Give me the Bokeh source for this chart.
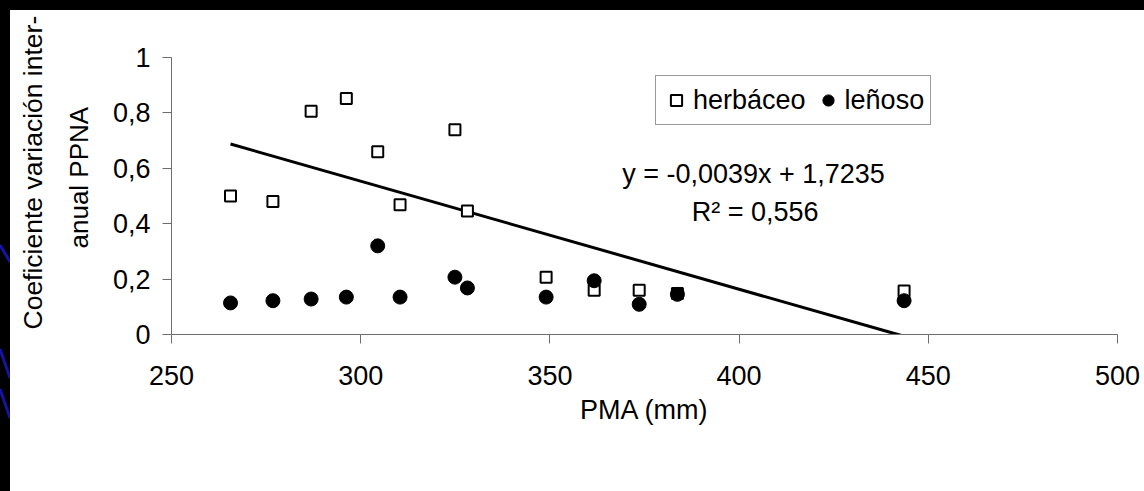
from bokeh.plotting import figure
from bokeh.layouts import row, column
from bokeh.models import (Range1d, FixedTicker, CustomJSTickFormatter, Legend, LegendItem,
                          Label, Title, Div)
from bokeh.embed import file_html
from bokeh.resources import INLINE

# ---------------- data ----------------
pma = [265.6, 276.8, 286.9, 296.2, 304.5, 310.4, 324.9, 328.2, 349.0, 361.7, 373.6, 383.7, 443.6]
herbaceo = [0.500, 0.480, 0.806, 0.852, 0.660, 0.468, 0.739, 0.446, 0.207, 0.160, 0.160, 0.148, 0.157]
lenoso = [0.114, 0.122, 0.128, 0.135, 0.320, 0.135, 0.207, 0.168, 0.135, 0.194, 0.109, 0.145, 0.122]

x_ticks = [250, 300, 350, 400, 450, 500]
y_ticks = [0, 0.2, 0.4, 0.6, 0.8, 1.0]
y_tick_labels = ["0", "0,2", "0,4", "0,6", "0,8", "1"]

trend_slope = -0.0039
trend_intercept = 1.7235
eq_text = "y = -0,0039x + 1,7235"
r2_text = "R\u00b2 = 0,556"

series_names = ["herbáceo", "leñoso"]
x_title = "PMA (mm)"
y_title_lines = ["Coeficiente variación inter-", "anual PPNA"]

# slide background strokes on the left black border (page pixels)
deco_x0 = [0, 0, 0]
deco_y0 = [245, 349, 389]
deco_x1 = [10, 10, 10]
deco_y1 = [262, 378, 418]

# ---------------- layout ----------------
W, H = 1144, 491
OX, OY = 10, 10                     # black slide border (left, top)
GL, GR, GT, GB = 171, 1117, 57, 334  # frame edges in page pixels
FONT = "Liberation Sans"


def dx(px):
    return 250 + (px - GL) * 250.0 / (GR - GL)


def dy(py):
    return (GB - py) / float(GB - GT)


pw, ph = W - OX, H - OY
p = figure(width=pw, height=ph, output_backend="svg", toolbar_location=None,
           x_range=Range1d(250, 500), y_range=Range1d(0, 1),
           min_border_left=GL - OX, min_border_right=W - GR, min_border_top=GT - OY,
           min_border_bottom=H - GB)
p.border_fill_color = "white"
p.border_fill_alpha = 1
p.background_fill_color = "white"
p.background_fill_alpha = 1
p.outline_line_color = None
p.outline_line_alpha = 0
p.outline_line_width = 0
p.xgrid.visible = False
p.ygrid.visible = False
try:
    p.frame_align = False
except Exception:
    pass

# axes
for ax in (p.xaxis[0], p.yaxis[0]):
    ax.axis_line_color = "#6e6e6e"
    ax.axis_line_width = 1
    ax.major_tick_line_color = "#6e6e6e"
    ax.major_tick_in = 0
    ax.major_tick_out = 9
    ax.minor_tick_line_color = None
    ax.major_label_text_font = FONT
    ax.major_label_text_font_size = "27px"
    ax.major_label_text_color = "black"

p.xaxis.ticker = FixedTicker(ticks=x_ticks)
p.yaxis.ticker = FixedTicker(ticks=y_ticks)
p.yaxis.formatter = CustomJSTickFormatter(args=dict(tvals=y_ticks, tlabels=y_tick_labels), code="""
    let best = 0;
    for (let i = 0; i < tvals.length; i++) {
        if (Math.abs(tvals[i] - tick) < Math.abs(tvals[best] - tick)) best = i;
    }
    return tlabels[best];
""")
p.yaxis.major_label_standoff = 12
p.xaxis.major_label_standoff = 22

p.xaxis.axis_label = x_title
p.xaxis.axis_label_text_font = FONT
p.xaxis.axis_label_text_font_size = "27px"
p.xaxis.axis_label_text_font_style = "normal"
p.xaxis.axis_label_text_color = "black"
p.xaxis.axis_label_standoff = 7

# y title: two rotated lines, each centred like the reference
# (inner line added first so it sits next to the axis)
t_inner = Title(text=y_title_lines[1], align="left", offset=86, standoff=31,
                text_font=FONT, text_font_size="26px", text_font_style="normal",
                text_color="black")
t_outer = Title(text=y_title_lines[0], align="left", offset=5, standoff=0,
                text_font=FONT, text_font_size="26.5px", text_font_style="normal",
                text_color="black")
try:
    t_outer.standoff = -3
except Exception:
    pass
p.add_layout(t_inner, "left")
p.add_layout(t_outer, "left")

# trend line
tx = [min(pma), max(pma)]
ty = [trend_slope * v + trend_intercept for v in tx]
p.line(tx, ty, line_color="black", line_width=3)

# scatter series
r_h = p.scatter(pma, herbaceo, marker="square", size=11, fill_color="white",
                line_color="black", line_width=2)
r_l = p.scatter(pma, lenoso, marker="circle", size=14, fill_color="black",
                line_color="black", line_width=1)

# equation labels
p.add_layout(Label(x=dx(753), y=dy(173.3), text=eq_text, text_align="center",
                   text_baseline="alphabetic", text_font=FONT, text_font_size="27px",
                   text_color="black"))
p.add_layout(Label(x=dx(754.7), y=dy(211), text=r2_text, text_align="center",
                   text_baseline="alphabetic", text_font=FONT, text_font_size="27px",
                   text_color="black"))

legend = Legend(items=[LegendItem(label=series_names[0], renderers=[r_h]),
                       LegendItem(label=series_names[1], renderers=[r_l])],
                orientation="horizontal", location=(655 - GL, GB - 125),
                glyph_width=28, glyph_height=36, label_standoff=3, spacing=8, padding=6,
                margin=0,
                label_text_font=FONT, label_text_font_size="27px", label_text_color="black",
                border_line_color="#333333", border_line_width=1,
                background_fill_color="white", background_fill_alpha=1)
p.add_layout(legend)

# black slide border: top strip and left strip (with the blue background strokes)
top = Div(text="", width=W, height=OY, margin=0,
          styles={"background-color": "black", "overflow": "hidden"})
svg_lines = "".join(
    '<line x1="%g" y1="%g" x2="%g" y2="%g" stroke="#1414a0" stroke-width="3"/>'
    % (a, b - OY, c, e - OY)
    for a, b, c, e in zip(deco_x0, deco_y0, deco_x1, deco_y1))
left = Div(text='<svg width="%d" height="%d" style="display:block">%s</svg>' % (OX, ph, svg_lines),
           width=OX, height=ph, margin=0,
           styles={"background-color": "black", "overflow": "hidden"})

inner = row(left, p, spacing=0, width=W, height=ph, sizing_mode="fixed",
            styles={"background-color": "white"})
layout = column(top, inner, spacing=0, width=W, height=H, sizing_mode="fixed",
                styles={"background-color": "white"})

open("out.html", "w").write(file_html(layout, INLINE))
